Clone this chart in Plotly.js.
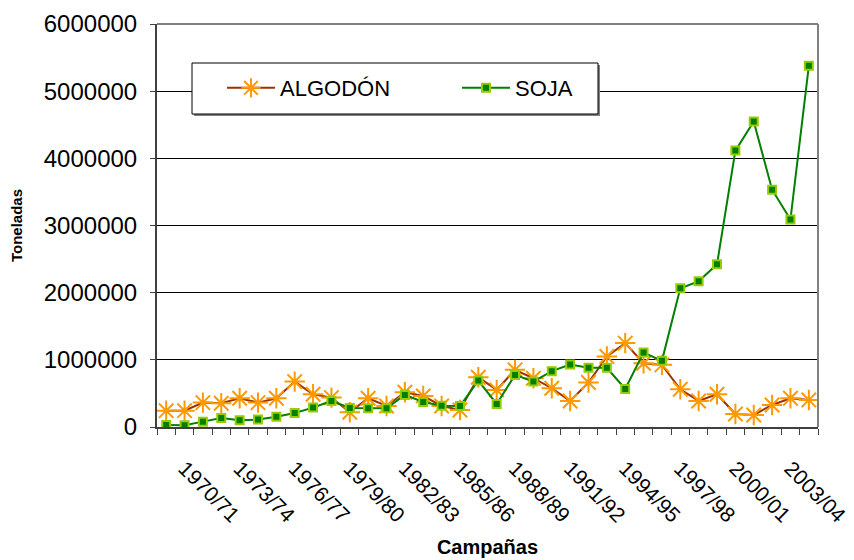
<!DOCTYPE html>
<html>
<head>
<meta charset="utf-8">
<script src="https://cdn.plot.ly/plotly-3.0.1.min.js"></script>
<style>html,body{margin:0;padding:0;background:#fff;}#chart{width:854px;height:560px;}</style>
</head>
<body>
<div id="chart"></div>
<script>
const campanas = ["1969/70","1970/71","1971/72","1972/73","1973/74","1974/75","1975/76","1976/77","1977/78","1978/79",
  "1979/80","1980/81","1981/82","1982/83","1983/84","1984/85","1985/86","1986/87","1987/88","1988/89",
  "1989/90","1990/91","1991/92","1992/93","1993/94","1994/95","1995/96","1996/97","1997/98","1998/99",
  "1999/00","2000/01","2001/02","2002/03","2003/04","2004/05"];
const algodon = [243000,243000,363000,353000,428000,363000,428000,676000,488000,438000,
  219000,428000,313000,517000,463000,313000,254000,741000,552000,851000,
  726000,577000,388000,662000,1050000,1249000,950000,925000,562000,388000,
  488000,194000,179000,328000,428000,403000];
const soja = [30000,25000,80000,134000,100000,110000,154000,209000,289000,388000,
  284000,279000,279000,478000,373000,318000,313000,691000,343000,776000,
  676000,831000,930000,881000,881000,567000,1109000,985000,2064000,2169000,
  2423000,4115000,4548000,3533000,3090000,5378000];
const labelStep = 3, labelStart = 1;

const idx = campanas.map((c, i) => i);
const tickIdx = idx.filter(i => i >= labelStart && (i - labelStart) % labelStep === 0);
const tickTxt = tickIdx.map(i => campanas[i]);

const font = "Liberation Sans, Arial, sans-serif";

const traces = [
  {x: idx, y: algodon, name: "ALGODÓN", type: "scatter", mode: "lines+markers",
   text: campanas, hovertemplate: "%{text}: %{y}<extra></extra>",
   line: {color: "#993300", width: 2},
   marker: {symbol: "asterisk-open", size: 17, color: "#FF9900", line: {color: "#FF9900", width: 2}}},
  {x: idx, y: soja, name: "SOJA", type: "scatter", mode: "lines+markers",
   text: campanas, hovertemplate: "%{text}: %{y}<extra></extra>",
   line: {color: "#008000", width: 2},
   marker: {symbol: "square", size: 8, color: "#008000", line: {color: "#99CC00", width: 2}}}
];

const layout = {
  width: 854, height: 560,
  margin: {l: 157, r: 36, t: 24, b: 133},
  paper_bgcolor: "#fff", plot_bgcolor: "#fff",
  font: {family: font, color: "#000", size: 22},
  showlegend: true,
  legend: {orientation: "h", x: (222-157)/661, y: (427-67)/403, xanchor: "left", yanchor: "top",
    bgcolor: "rgba(0,0,0,0)", borderwidth: 0, font: {size: 22, family: font},
    itemwidth: 48, entrywidth: 172, traceorder: "normal"},
  xaxis: {range: [-0.5, idx.length - 0.5], showgrid: false, zeroline: false,
    tickmode: "array", tickvals: tickIdx, ticktext: tickTxt, tickangle: 45,
    ticks: "", ticklabelstandoff: 19, tickfont: {size: 21, family: font},
    showline: true, linecolor: "#404040", linewidth: 2,
    minor: {tick0: -0.5, dtick: 1, ticks: "outside", ticklen: 6, tickcolor: "#404040", tickwidth: 1, showgrid: false},
    title: {text: "<b>Campañas</b>", font: {size: 20, family: font}, standoff: 14},
    fixedrange: true},
  yaxis: {range: [0, 6000000], dtick: 1000000, tick0: 0, tickformat: "d",
    showgrid: true, gridcolor: "#000", gridwidth: 1, zeroline: false,
    showline: true, linecolor: "#404040", linewidth: 2,
    ticks: "outside", ticklen: 5, tickcolor: "#404040", tickfont: {size: 24, family: font},
    ticklabelstandoff: 8,
    title: {text: "<b>Toneladas</b>", font: {size: 15, family: font}, standoff: 18},
    fixedrange: true},
  shapes: [
    {type: "line", xref: "paper", yref: "paper", x0: 0, x1: 1, y0: 1, y1: 1, line: {color: "#808080", width: 2}},
    {type: "line", xref: "paper", yref: "paper", x0: 1, x1: 1, y0: 0, y1: 1, line: {color: "#808080", width: 2}},
    {type: "rect", xref: "paper", yref: "paper", x0: (194-157)/661, x1: (600-157)/661, y0: (427-116)/403, y1: (427-65)/403,
     fillcolor: "#808080", line: {width: 0}, layer: "above"},
    {type: "rect", xref: "paper", yref: "paper", x0: (192-157)/661, x1: (598-157)/661, y0: (427-114)/403, y1: (427-63)/403,
     fillcolor: "#fff", line: {color: "#000", width: 1}, layer: "above"}
  ]
};

Plotly.newPlot("chart", traces, layout, {displayModeBar: false, staticPlot: true});
</script>
</body>
</html>
